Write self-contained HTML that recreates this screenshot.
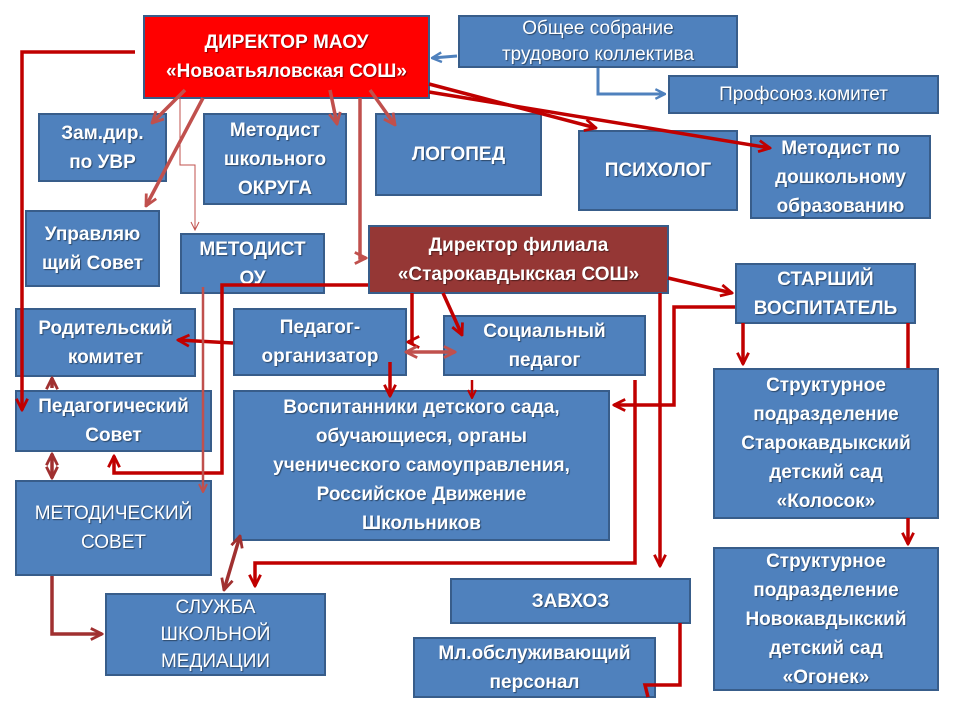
<!DOCTYPE html>
<html><head><meta charset="utf-8"><style>
html,body{margin:0;padding:0;background:#fff;}
#c{position:relative;width:960px;height:720px;overflow:hidden;font-family:"Liberation Sans",sans-serif;}
.b{position:absolute;box-sizing:border-box;background:#4f81bd;border:2px solid #385d8a;color:#fff;font-weight:bold;font-size:19px;line-height:29px;display:flex;align-items:center;justify-content:center;text-align:center;text-shadow:1px 1px 1px rgba(0,0,0,0.45);}
.r{background:#ff0000;border-color:#385d8a;}
.d{background:#953735;border-color:#385d8a;}
.n{font-weight:normal;}
svg{position:absolute;left:0;top:0;}
</style></head><body><div id="c">
<div class="b r" style="left:143px;top:15px;width:287px;height:84px;">ДИРЕКТОР МАОУ<br>«Новоатьяловская СОШ»</div>
<div class="b n" style="left:458px;top:15px;width:280px;height:53px;line-height:26px;">Общее собрание<br>трудового коллектива</div>
<div class="b n" style="left:668px;top:75px;width:271px;height:39px;">Профсоюз.комитет</div>
<div class="b" style="left:38px;top:113px;width:129px;height:69px;">Зам.дир.<br>по УВР</div>
<div class="b" style="left:203px;top:113px;width:144px;height:92px;">Методист<br>школьного<br>ОКРУГА</div>
<div class="b" style="left:375px;top:113px;width:167px;height:83px;">ЛОГОПЕД</div>
<div class="b" style="left:578px;top:130px;width:160px;height:81px;">ПСИХОЛОГ</div>
<div class="b" style="left:750px;top:135px;width:181px;height:84px;">Методист по<br>дошкольному<br>образованию</div>
<div class="b" style="left:25px;top:210px;width:135px;height:77px;">Управляю<br>щий Совет</div>
<div class="b" style="left:180px;top:233px;width:145px;height:61px;">МЕТОДИСТ<br>ОУ</div>
<div class="b d" style="left:368px;top:225px;width:301px;height:69px;">Директор филиала<br>«Старокавдыкская СОШ»</div>
<div class="b" style="left:735px;top:263px;width:181px;height:61px;">СТАРШИЙ<br>ВОСПИТАТЕЛЬ</div>
<div class="b" style="left:15px;top:308px;width:181px;height:69px;">Родительский<br>комитет</div>
<div class="b" style="left:233px;top:308px;width:174px;height:68px;">Педагог-<br>организатор</div>
<div class="b" style="left:443px;top:315px;width:203px;height:61px;">Социальный<br>педагог</div>
<div class="b" style="left:15px;top:390px;width:197px;height:62px;">Педагогический<br>Совет</div>
<div class="b" style="left:233px;top:390px;width:377px;height:151px;">Воспитанники детского сада,<br>обучающиеся, органы<br>ученического самоуправления,<br>Российское Движение<br>Школьников</div>
<div class="b" style="left:713px;top:368px;width:226px;height:151px;">Структурное<br>подразделение<br>Старокавдыкский<br>детский сад<br>«Колосок»</div>
<div class="b n" style="left:15px;top:480px;width:197px;height:96px;">МЕТОДИЧЕСКИЙ<br>СОВЕТ</div>
<div class="b n" style="left:105px;top:593px;width:221px;height:83px;line-height:27px;">СЛУЖБА<br>ШКОЛЬНОЙ<br>МЕДИАЦИИ</div>
<div class="b" style="left:450px;top:578px;width:241px;height:46px;">ЗАВХОЗ</div>
<div class="b" style="left:413px;top:637px;width:243px;height:61px;">Мл.обслуживающий<br>персонал</div>
<div class="b" style="left:713px;top:547px;width:226px;height:144px;">Структурное<br>подразделение<br>Новокавдыкский<br>детский сад<br>«Огонек»</div>
<svg width="960" height="720" fill="none" stroke-linejoin="miter">
<defs>
<marker id="a" viewBox="0 0 10 10" refX="9" refY="5" markerWidth="4" markerHeight="4" orient="auto-start-reverse"><path d="M1 1 L9 5 L1 9" stroke="#c00000" stroke-width="2" fill="none"/></marker>
<marker id="l" viewBox="0 0 10 10" refX="9" refY="5" markerWidth="4" markerHeight="4" orient="auto-start-reverse"><path d="M1 1 L9 5 L1 9" stroke="#c0504d" stroke-width="2" fill="none"/></marker>
<marker id="m" viewBox="0 0 10 10" refX="9" refY="5" markerWidth="4" markerHeight="4" orient="auto-start-reverse"><path d="M1 1 L9 5 L1 9" stroke="#a03030" stroke-width="2" fill="none"/></marker>
<marker id="t" viewBox="0 0 10 10" refX="9" refY="5" markerWidth="10" markerHeight="10" orient="auto"><path d="M1 1 L9 5 L1 9" stroke="#c0504d" stroke-width="1" fill="none"/></marker>
<marker id="u" viewBox="0 0 10 10" refX="9" refY="5" markerWidth="4" markerHeight="4" orient="auto-start-reverse"><path d="M1 1 L9 5 L1 9" stroke="#4f81bd" stroke-width="2" fill="none"/></marker>
</defs>
<g stroke="#c00000" stroke-width="3.5">
<path d="M135 52 H22 V410" marker-end="url(#a)"/>
<path d="M429 84 L596 128" marker-end="url(#a)"/>
<path d="M429 92 L770 148" marker-end="url(#a)"/>
<path d="M368 285 H222 V473 H114 V456" marker-end="url(#a)"/>
<path d="M412 293 V342 H408" marker-end="url(#a)"/>
<path d="M443 293 L462 335" marker-end="url(#a)"/>
<path d="M233 343 L178 340" marker-end="url(#a)"/>
<path d="M390 362 V396" marker-end="url(#a)"/>
<path d="M472 380 V398" marker-end="url(#a)" stroke-width="2.5"/>
<path d="M635 380 V563 H255 V586" marker-end="url(#a)"/>
<path d="M668 278 L732 293" marker-end="url(#a)"/>
<path d="M660 293 V566" marker-end="url(#a)"/>
<path d="M735 307 H674 V405 H614" marker-end="url(#a)"/>
<path d="M743 323 V364" marker-end="url(#a)"/>
<path d="M908 323 V368"/>
<path d="M908 518 V544" marker-end="url(#a)"/>
<path d="M680 623 V685 H645 L648 697"/>
</g>
<g stroke="#c0504d" stroke-width="3.5">
<path d="M185 90 L152 123" marker-end="url(#l)"/>
<path d="M203 98 L146 206" marker-end="url(#l)"/>
<path d="M330 90 L337 124" marker-end="url(#l)"/>
<path d="M360 98 V258 H366" marker-end="url(#l)"/>
<path d="M370 90 L395 125" marker-end="url(#l)"/>
<path d="M203 287 V492" marker-end="url(#l)" stroke-width="2.5"/>
<path d="M406 352 L455 352" marker-start="url(#l)" marker-end="url(#l)"/>
</g>
<path d="M180 98 V165 H195 V230" stroke="#c0504d" stroke-width="1" marker-end="url(#t)"/>
<g stroke="#a03030" stroke-width="3.5">
<path d="M52 388 V378" marker-end="url(#m)"/>
<path d="M52 454 V478" marker-start="url(#m)" marker-end="url(#m)"/>
<path d="M52 576 V634 H102" marker-end="url(#m)"/>
<path d="M224 590 L240 536" marker-start="url(#m)" marker-end="url(#m)"/>
</g>
<g stroke="#4f81bd" stroke-width="3">
<path d="M457 56 L432 58" marker-end="url(#u)"/>
<path d="M598 68 V94 H665" marker-end="url(#u)"/>
</g>
</svg>
</div></body></html>
